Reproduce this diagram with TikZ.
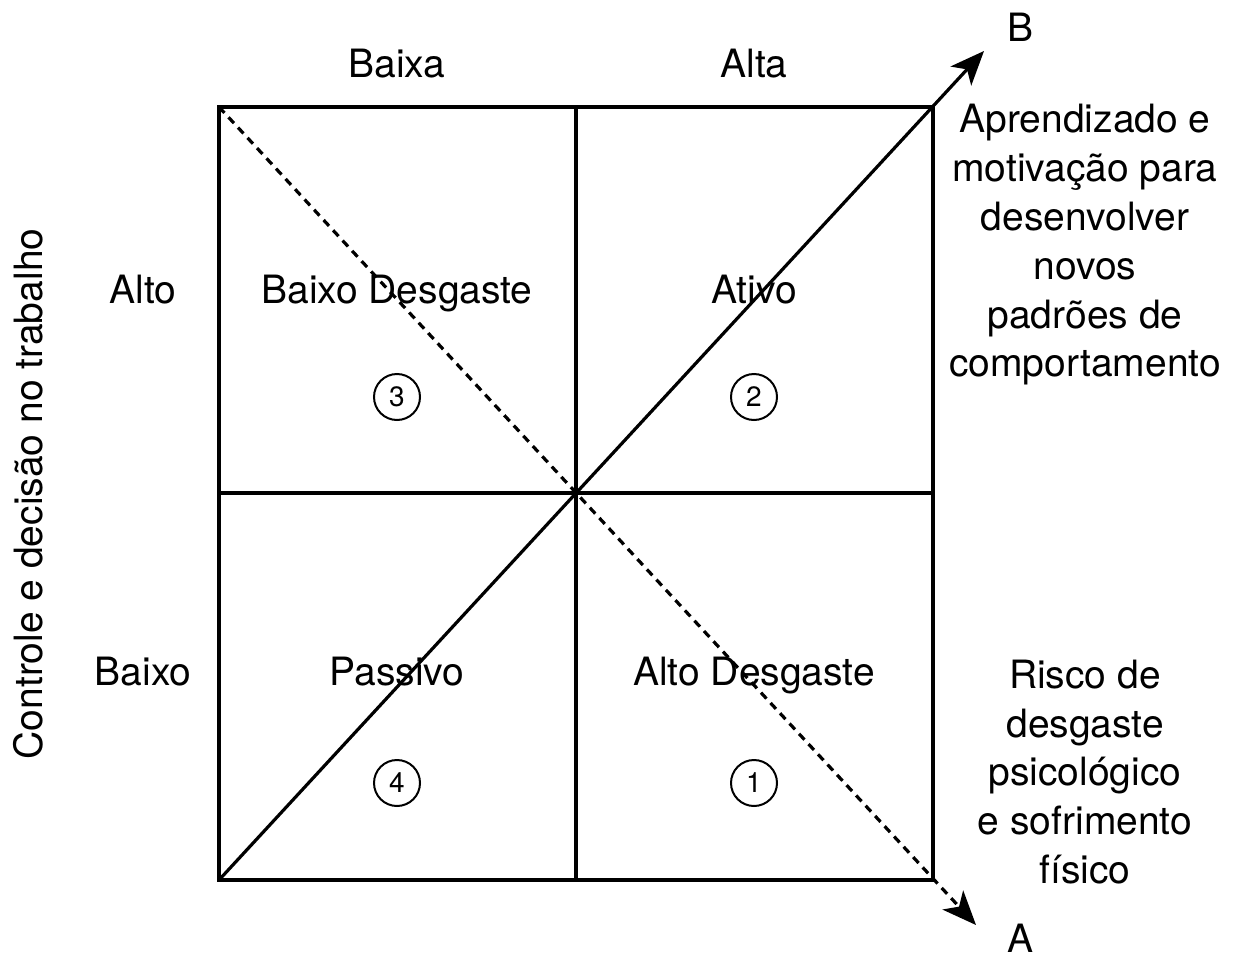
\documentclass[tikz,border=0pt]{standalone}
\usepackage{fontspec}
\setmainfont{TeX Gyre Heros}
\usetikzlibrary{arrows.meta}
\begin{document}
\begin{tikzpicture}[x=0.5pt,y=-0.5pt,
  lbl/.style={font=\fontsize{19.5}{24.4}\selectfont, inner sep=0pt, align=center},
  bl/.style={lbl, anchor=base},
  num/.style={draw, circle, line width=1pt, minimum size=23pt, inner sep=0pt, font=\fontsize{14}{16}\selectfont},
  edge/.style={line width=1.6pt},
  tip/.style={-{Stealth[length=17pt,width=14pt,inset=4.5pt]}}]
\useasboundingbox (0,0) rectangle (1237,953);
% corners
\coordinate (tl) at (219,107);
\coordinate (tr) at (933,107);
\coordinate (bl) at (219,880);
\coordinate (br) at (933,880);
\coordinate (tm) at (576,107);
\coordinate (bm) at (576,880);
\coordinate (lm) at (219,493);
\coordinate (rm) at (933,493);
\coordinate (B) at (984,51);
\coordinate (A) at (976,925);
% grid
\draw[edge] (tl) rectangle (br);
\draw[edge] (tm) -- (bm);
\draw[edge] (lm) -- (rm);
% diagonals
\draw[edge, tip] (bl) -- (B);
\draw[edge, tip, dash pattern=on 4pt off 3pt] (tl) -- (A);
% labels
\node[bl] (baixa) at (397,77) {Baixa};
\node[bl] (alta) at (754,77) {Alta};
\node[bl] (lB) at (1020,41) {B};
\node[bl] (lA) at (1020,952) {A};
\node[bl] (alto) at (143,303) {Alto};
\node[bl] (baixo) at (143,685) {Baixo};
\node[lbl, rotate=90] (ctrl) at (28,494) {Controle e decisão no trabalho};
\node[bl] (bd) at (397,303) {Baixo Desgaste};
\node[bl] (at) at (754,303) {Ativo};
\node[bl] (pa) at (397,685) {Passivo};
\node[bl] (ad) at (754,685) {Alto Desgaste};
\node[num] (n3) at (397,397) {3};
\node[num] (n2) at (754,397) {2};
\node[num] (n4) at (397,783) {4};
\node[num] (n1) at (754,783) {1};
\node[lbl] (apr) at (1085,245) {Aprendizado e\\motivação para\\desenvolver\\novos\\padrões de\\comportamento};
\node[lbl] (risco) at (1085,772) {Risco de\\desgaste\\psicológico\\e sofrimento\\físico};
\end{tikzpicture}
\end{document}
